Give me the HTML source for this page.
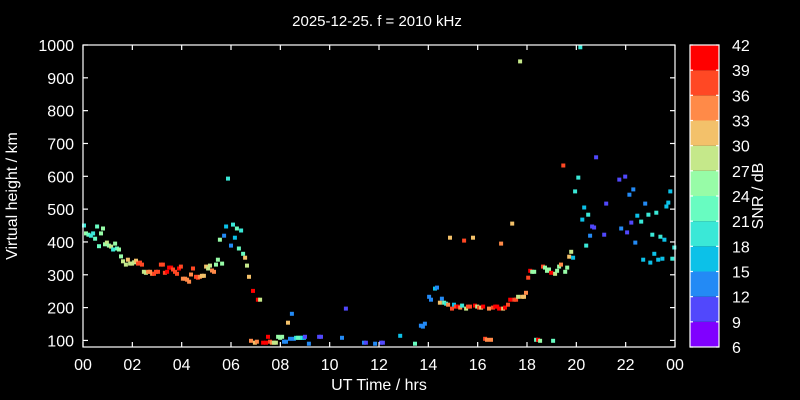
<!DOCTYPE html>
<html><head><meta charset="utf-8"><style>
html,body{margin:0;padding:0;background:#000;width:800px;height:400px;overflow:hidden}
svg text{font-family:"Liberation Sans",sans-serif;fill:#fff}
</style></head><body>
<svg id="c" width="800" height="400" xmlns="http://www.w3.org/2000/svg"></svg>
<script>
const hours=[0.04,0.12,0.22,0.32,0.41,0.49,0.57,0.65,0.73,0.81,0.89,0.97,1.05,1.14,1.22,1.30,1.38,1.46,1.54,1.62,1.74,1.82,1.91,1.99,2.07,2.15,2.23,2.31,2.39,2.47,2.55,2.64,2.72,2.80,2.88,2.96,3.04,3.16,3.24,3.32,3.41,3.49,3.57,3.65,3.73,3.81,3.89,3.97,4.05,4.14,4.22,4.30,4.38,4.46,4.58,4.66,4.74,4.82,4.90,4.99,5.07,5.15,5.23,5.31,5.39,5.47,5.55,5.64,5.72,5.80,5.88,6.00,6.08,6.16,6.24,6.32,6.41,6.49,6.57,6.65,6.73,6.89,7.09,7.18,6.81,6.97,7.05,7.30,7.42,7.50,7.58,7.66,7.74,7.82,7.91,7.99,8.07,8.15,8.23,8.31,8.39,8.47,8.55,8.64,8.72,8.80,8.88,8.96,9.00,9.16,9.57,9.65,10.5,10.66,11.39,11.47,11.84,12.08,12.16,12.86,13.46,13.70,13.78,13.86,14.03,14.11,14.27,14.35,14.55,14.47,14.64,14.72,14.80,14.88,14.96,15.04,15.12,15.20,15.29,15.37,15.45,15.53,15.61,15.69,15.81,15.89,15.98,16.06,16.14,16.22,16.30,16.38,16.46,16.54,16.62,16.71,16.79,16.87,16.95,17.03,17.11,17.23,17.32,17.40,17.48,17.56,17.64,17.72,17.80,17.88,17.96,18.05,18.13,18.21,18.29,18.37,18.45,18.53,18.65,18.73,18.81,18.89,18.98,19.06,19.14,19.22,19.30,19.38,19.47,19.55,19.63,19.71,19.79,19.87,19.95,20.08,20.16,20.24,20.32,20.40,20.48,20.56,20.64,20.72,20.80,21.13,21.21,21.74,21.82,21.98,22.06,22.15,22.23,22.31,22.39,22.47,22.63,22.71,22.79,22.92,23.00,23.08,23.16,23.24,23.32,23.41,23.49,23.57,23.65,23.73,23.81,23.89,23.97];
const heights=[450,426,422,419,426,410,447,387,426,441,393,398,389,386,377,395,380,377,356,341,331,346,334,334,338,343,334,337,331,309,306,309,309,303,303,309,309,331,331,306,309,322,322,316,309,303,319,325,288,288,285,279,301,319,294,291,294,297,297,325,319,328,313,309,331,346,407,334,419,447,593,389,453,413,441,380,435,364,352,328,294,251,224,224,99,93,96,93,93,111,96,93,93,93,111,108,111,96,96,154,105,181,105,108,108,108,108,108,111,90,111,111,108,197,93,93,90,93,93,114,90,145,142,151,233,224,258,261,227,215,215,212,209,413,197,209,203,203,200,206,404,197,203,203,413,206,203,200,200,203,105,102,197,102,200,203,203,197,395,197,200,209,224,456,224,224,233,950,233,233,245,291,312,309,309,102,102,99,325,322,312,316,306,99,303,312,325,331,633,309,322,355,370,352,554,596,993,468,505,389,483,419,447,444,658,422,517,590,441,599,429,544,459,560,398,480,462,346,517,483,337,422,364,489,346,416,349,407,508,520,554,349,383];
const snr=[19,25,22,20,20,22,23,22,24,24,26,27,26,27,20,24,22,24,24,27,27,31,28,28,28,30,37,36,38,29,28,33,34,34,36,36,38,36,37,37,41,40,40,38,37,36,41,38,33,33,34,34,33,38,36,36,33,32,31,31,29,29,34,33,26,25,24,24,13,15,20,14,20,15,22,21,20,23,31,28,32,39,39,28,33,31,33,41,41,39,38,35,29,27,25,26,24,14,14,31,14,13,14,18,22,22,20,17,10,14,11,11,14,10,12,11,14,11,11,15,23,13,13,13,13,13,15,13,13,31,22,20,33,31,37,17,38,40,34,19,37,28,38,36,32,39,28,36,30,40,36,35,35,35,38,41,40,39,35,30,41,37,41,31,38,37,28,28,31,32,35,38,41,26,26,21,41,24,37,24,26,25,40,22,28,26,24,34,36,24,26,31,28,17,18,20,20,15,16,20,20,14,10,10,10,10,10,10,14,10,10,14,10,14,14,16,18,16,14,18,16,20,16,20,16,20,17,17,17,17,17,20,20];
const xTicks=["00","02","04","06","08","10","12","14","16","18","20","22","00"];
const yTicks=[100,200,300,400,500,600,700,800,900,1000];
const cbTicks=[6,9,12,15,18,21,24,27,30,33,36,39,42];

const NS="http://www.w3.org/2000/svg";
const svg=document.getElementById('c');
const L=83,R=675,T=45,B=347,YMIN=80,YMAX=1000;
const xs=h=>L+(h/24)*(R-L);
const ys=v=>B-(v-YMIN)/(YMAX-YMIN)*(B-T);
const CB={x:690,w:29,t:45,b:347,min:6,max:42};
const cbY=v=>CB.b-(v-CB.min)/(CB.max-CB.min)*(CB.b-CB.t);
function rainbow(x){const r=Math.min(1,Math.abs(2*x-0.5)),g=Math.sin(Math.PI*x),b=Math.cos(Math.PI*x/2);
 const c=v=>Math.round(Math.max(0,Math.min(1,v))*255);return `rgb(${c(r)},${c(g)},${c(b)})`;}
function bandColor(v){let i=Math.floor((v-6)/3);i=Math.max(0,Math.min(11,i));return rainbow(i/11);}
function mk(tag,attrs,text){const e=document.createElementNS(NS,tag);for(const k in attrs)e.setAttribute(k,attrs[k]);if(text!==undefined)e.textContent=text;svg.appendChild(e);return e;}

let t=mk('text',{x:377,y:26,'font-size':15,'text-anchor':'middle'},'2025-12-25. f = 2010 kHz');



hours.forEach((h,i)=>{
 const p=mk('rect',{x:(xs(h)-2).toFixed(1),y:(ys(heights[i])-2).toFixed(1),width:4,height:4,fill:bandColor(snr[i])});
 
 
});

let fr=mk('rect',{x:L,y:T,width:R-L,height:B-T,fill:'none',stroke:'#fff','stroke-width':1.2});



xTicks.forEach((lab,i)=>{
 const x=xs(i*2);
 mk('line',{x1:x,y1:T,x2:x,y2:T+5,stroke:'#fff','stroke-width':1.2});
 mk('line',{x1:x,y1:B,x2:x,y2:B-5,stroke:'#fff','stroke-width':1.2});
 const e=mk('text',{x:x,y:B+23,'font-size':16,'text-anchor':'middle'},lab);
 
 
});
yTicks.forEach(v=>{
 const y=ys(v);
 mk('line',{x1:L,y1:y,x2:L+5,y2:y,stroke:'#fff','stroke-width':1.2});
 mk('line',{x1:R,y1:y,x2:R-5,y2:y,stroke:'#fff','stroke-width':1.2});
 const e=mk('text',{x:L-9,y:y+6,'font-size':16,'text-anchor':'end'},String(v));
 
 
});
let xl=mk('text',{x:379,y:390,'font-size':16,'text-anchor':'middle'},'UT Time / hrs');


let yl=mk('text',{x:0,y:0,'font-size':16,'text-anchor':'middle',transform:'translate(17,196) rotate(-90)'},'Virtual height / km');



for(let i=0;i<12;i++){
 const v0=6+3*i,v1=v0+3;
 const r=mk('rect',{x:CB.x,y:cbY(v1),width:CB.w,height:cbY(v0)-cbY(v1),fill:rainbow(i/11)});
 
 
}
let cbf=mk('rect',{x:CB.x,y:CB.t,width:CB.w,height:CB.b-CB.t,fill:'none',stroke:'#fff','stroke-width':1.2});


cbTicks.forEach(v=>{
 const y=cbY(v);
 mk('line',{x1:CB.x,y1:y,x2:CB.x+3,y2:y,stroke:'#fff','stroke-width':1.2});
 mk('line',{x1:CB.x+CB.w,y1:y,x2:CB.x+CB.w-3,y2:y,stroke:'#fff','stroke-width':1.2});
 const e=mk('text',{x:732,y:y+6,'font-size':16},String(v));
 
 
});
let cl=mk('text',{x:0,y:0,'font-size':16,'text-anchor':'middle',transform:'translate(763,196) rotate(-90)'},'SNR / dB');


</script>
</body></html>
